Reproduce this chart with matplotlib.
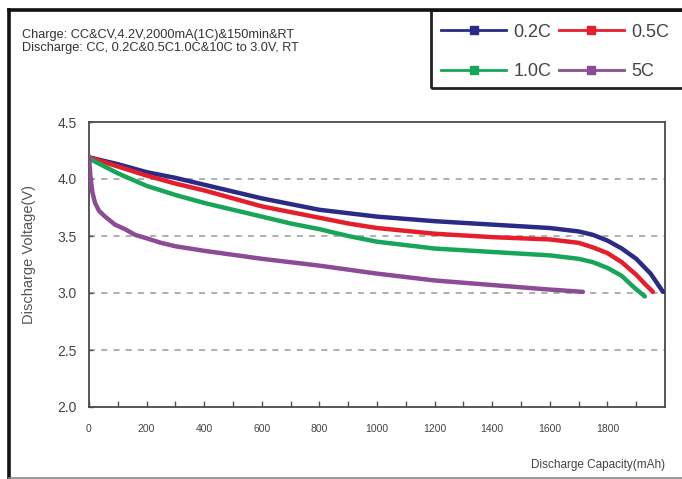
import matplotlib.pyplot as plt
from matplotlib.lines import Line2D
from matplotlib.patches import Rectangle

plt.rcParams["font.family"] = ["Liberation Sans", "DejaVu Sans"]

# Discharge capacity (mAh) / voltage (V)
CAP_02C = [0, 100, 200, 300, 400, 500, 600, 700, 800, 900, 1000, 1200, 1400, 1600,
           1700, 1750, 1800, 1850, 1900, 1950, 1993]
VOLT_02C = [4.19, 4.13, 4.06, 4.01, 3.95, 3.89, 3.83, 3.78, 3.73, 3.70, 3.67, 3.63, 3.60, 3.57,
            3.54, 3.51, 3.46, 3.39, 3.30, 3.17, 3.01]

CAP_05C = [0, 100, 200, 300, 400, 500, 600, 700, 800, 900, 1000, 1200, 1400, 1600,
           1700, 1750, 1800, 1850, 1900, 1930, 1958]
VOLT_05C = [4.19, 4.11, 4.03, 3.96, 3.90, 3.83, 3.76, 3.71, 3.66, 3.61, 3.57, 3.52, 3.49, 3.47,
            3.44, 3.40, 3.35, 3.27, 3.16, 3.08, 3.01]

CAP_10C = [0, 100, 200, 300, 400, 500, 600, 700, 800, 900, 1000, 1200, 1400, 1600,
           1700, 1750, 1800, 1850, 1892, 1930]
VOLT_10C = [4.18, 4.05, 3.94, 3.86, 3.79, 3.73, 3.67, 3.61, 3.56, 3.50, 3.45, 3.39, 3.36, 3.33,
            3.30, 3.27, 3.22, 3.15, 3.05, 2.97]

CAP_5C = [0, 5, 12, 21, 35, 56, 90, 125, 160, 200, 250, 300, 400, 600, 800, 1000, 1200,
          1400, 1600, 1715]
VOLT_5C = [4.20, 4.02, 3.88, 3.79, 3.72, 3.67, 3.60, 3.56, 3.51, 3.48, 3.44, 3.41, 3.37, 3.30,
           3.24, 3.17, 3.11, 3.07, 3.03, 3.01]

SERIES = [
    ("0.2C", CAP_02C, VOLT_02C, "#2a2b86"),
    ("0.5C", CAP_05C, VOLT_05C, "#e41f2b"),
    ("1.0C", CAP_10C, VOLT_10C, "#17a55a"),
    ("5C", CAP_5C, VOLT_5C, "#8c4b95"),
]

X_TICKS = [0, 200, 400, 600, 800, 1000, 1200, 1400, 1600, 1800]
Y_TICKS = [2.0, 2.5, 3.0, 3.5, 4.0, 4.5]
GRID_Y = [2.5, 3.0, 3.5, 4.0]

W, H = 682, 479
fig = plt.figure(figsize=(W / 100, H / 100), dpi=100)
ax = fig.add_axes([89 / W, 1 - 407 / H, (665 - 89) / W, (407 - 122) / H])

for y in GRID_Y:
    ax.axhline(y, color="#9a9a9a", lw=1.1, ls=(0, (4, 4)), zorder=1)

for nome, cap, volt, cor in SERIES:
    ax.plot(cap, volt, color=cor, lw=3.2, solid_capstyle="round",
            solid_joinstyle="round", zorder=3)

ax.set_xlim(0, 2000)
ax.set_ylim(2.0, 4.5)
ax.set_xticks(X_TICKS)
ax.set_xticks(range(100, 2000, 100), minor=True)
ax.set_yticks(Y_TICKS)
ax.set_yticklabels([f"{v:.1f}" for v in Y_TICKS])
ax.tick_params(axis="x", which="both", direction="in", length=4, width=1,
               labelsize=7.5, pad=12, colors="#555555", labelcolor="#444444")
ax.tick_params(axis="y", direction="in", length=3, width=1,
               labelsize=10, pad=9, colors="#555555", labelcolor="#444444")
for s in ax.spines.values():
    s.set_color("#4a4a4a")
    s.set_linewidth(1.3)

fig.text(29 / W, 1 - 255 / H, "Discharge Voltage(V)", rotation=90,
         ha="center", va="center", fontsize=10.5, color="#555555")
fig.text(665 / W, 1 - 465 / H, "Discharge Capacity(mAh)", ha="right",
         va="center", fontsize=8.5, color="#444444")

fig.text(22 / W, 1 - 35 / H, "Charge: CC&CV,4.2V,2000mA(1C)&150min&RT",
         ha="left", va="center", fontsize=9.2, color="#333333")
fig.text(22 / W, 1 - 48 / H, "Discharge: CC, 0.2C&0.5C1.0C&10C to 3.0V, RT",
         ha="left", va="center", fontsize=9.2, color="#333333")

# outer frame
fig.add_artist(Line2D([9 / W, 9 / W], [1 - 478 / H, 1 - 10 / H], color="#111111", lw=2.6))
fig.add_artist(Line2D([9 / W, 1], [1 - 10 / H, 1 - 10 / H], color="#111111", lw=2.6))
fig.add_artist(Line2D([9 / W, 1], [1 - 477.5 / H, 1 - 477.5 / H], color="#888888", lw=1.2))

# legend box
fig.add_artist(Rectangle((431 / W, 1 - 88 / H), (W + 5 - 431) / W, (88 - 10) / H,
                         transform=fig.transFigure, fill=False,
                         edgecolor="#222222", lw=2))
handles = [Line2D([], [], color=cor, lw=2, marker="s", markersize=6,
                  markerfacecolor=cor, markeredgecolor=cor)
           for _, _, _, cor in SERIES]
labels = [s[0] for s in SERIES]
# column-wise fill: 0.2C / 1.0C in first column, 0.5C / 5C in second
ordem = [0, 2, 1, 3]
fig.legend([handles[i] for i in ordem], [labels[i] for i in ordem],
           loc="center", bbox_to_anchor=(555 / W, 1 - 52 / H), ncol=2,
           frameon=False, fontsize=13, handlelength=3.6, handletextpad=0.4,
           columnspacing=0.4, labelspacing=1.25, labelcolor="#444444")

fig.savefig("out.png", dpi=100)
